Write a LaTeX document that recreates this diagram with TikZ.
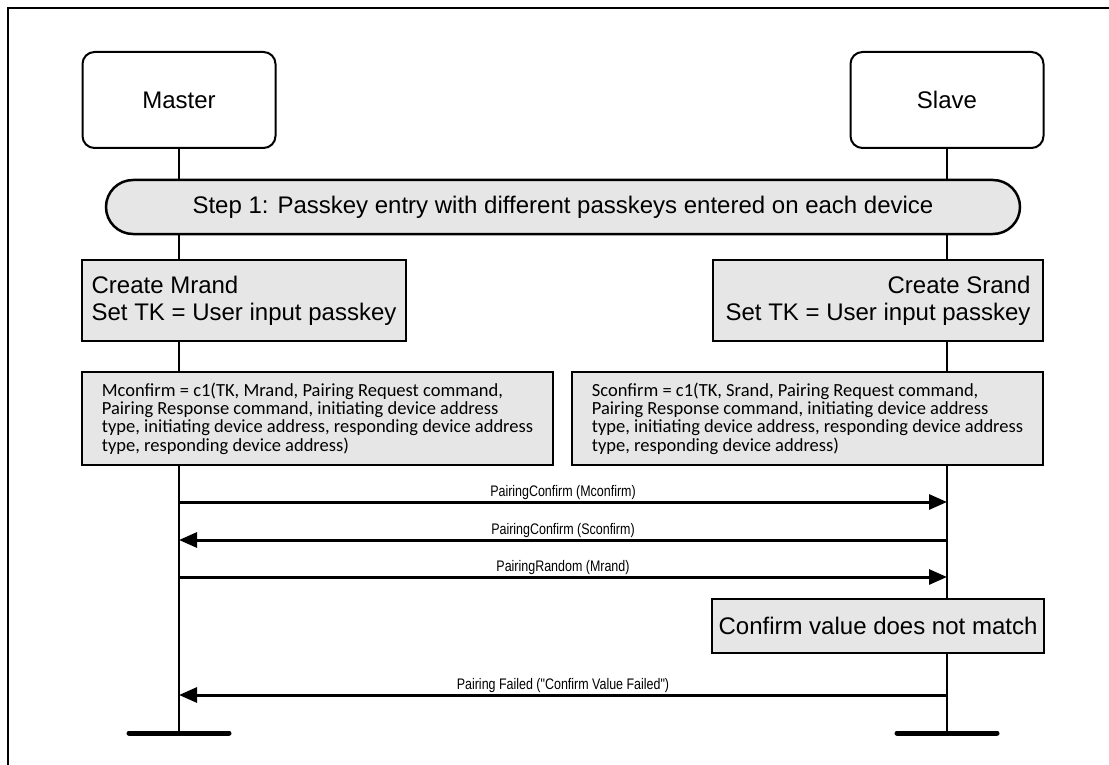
\documentclass[tikz,border=0pt]{standalone}
\usepackage{fontspec}
\setmainfont{Liberation Sans}
\newfontfamily\calfont{Carlito}
\newfontfamily\narrowfont{Liberation Sans}[FakeStretch=0.815]
\usetikzlibrary{arrows.meta,backgrounds}
\definecolor{boxgray}{HTML}{E6E6E6}

\begin{document}
\begin{tikzpicture}[x=1pt,y=-1pt,
  party/.style={draw,line width=2pt,rounded corners=12pt,fill=white,
    minimum width=193pt,minimum height=96pt,
    font=\fontsize{24}{27}\selectfont},
  note/.style={draw,line width=2.5pt,fill=boxgray,inner sep=0pt,
    font=\fontsize{24}{27}\selectfont},
  formula/.style={note,align=left,minimum width=471pt,minimum height=93pt,
    font=\calfont\fontsize{18.5}{18.3}\selectfont},
  life/.style={line width=2pt},
  msg/.style={line width=3pt,-{Triangle[length=18pt,width=15pt]}},
  lab/.style={midway,anchor=base,yshift=6pt,
    font=\narrowfont\fontsize{15.3}{18}\selectfont},
  endbar/.style={line width=5pt,line cap=round}]
\useasboundingbox (0,0) rectangle (1109,765);
\draw[line width=2pt] (8,765) -- (8,8) -- (1109,8);
\node[party] (master) at (179,100) {Master};
\node[party] (slave) at (947,100) {Slave};
\node[note,rounded corners=27pt,minimum width=914pt,minimum height=54pt]
  (step) at (563,207)
  {Step 1: Passkey entry with different passkeys entered on each device};
\node[note,align=left,minimum width=324pt,minimum height=81pt] (mrand)
  at (244,300.5) {Create Mrand\\Set TK = User input passkey};
\node[note,align=right,minimum width=330pt,minimum height=81pt] (srand)
  at (878,300.5) {Create Srand\\Set TK = User input passkey};
\node[formula] (mconf) at (317.5,418.5)
  {Mconfirm = c1(TK, Mrand, Pairing Request command,\\
   Pairing Response command, initiating device address\\
   type, initiating device address, responding device address\\
   type, responding device address)};
\node[formula] (sconf) at (807.5,418.5)
  {Sconfirm = c1(TK, Srand, Pairing Request command,\\
   Pairing Response command, initiating device address\\
   type, initiating device address, responding device address\\
   type, responding device address)};
\node[note,minimum width=332pt,minimum height=54pt] (nomatch)
  at (878,626) {Confirm value does not match};
\coordinate (mend) at (179,733);
\coordinate (send) at (947,733);
\coordinate (y1) at (0,502);
\coordinate (y2) at (0,540);
\coordinate (y3) at (0,577);
\coordinate (y4) at (0,695);
\begin{scope}[on background layer]
\draw[life] (master.south) -- (mend);
\draw[life] (slave.south) -- (send);
\end{scope}
\draw[msg] (master |- y1) -- (slave |- y1)
  node[lab] {PairingConfirm (Mconfirm)};
\draw[msg] (slave |- y2) -- (master |- y2)
  node[lab] {PairingConfirm (Sconfirm)};
\draw[msg] (master |- y3) -- (slave |- y3)
  node[lab] {PairingRandom (Mrand)};
\draw[msg] (slave |- y4) -- (master |- y4)
  node[lab] {Pairing Failed ("Confirm Value Failed")};
\draw[endbar] ([xshift=-50pt]mend) -- ([xshift=50pt]mend);
\draw[endbar] ([xshift=-50pt]send) -- ([xshift=50pt]send);
\end{tikzpicture}
\end{document}
